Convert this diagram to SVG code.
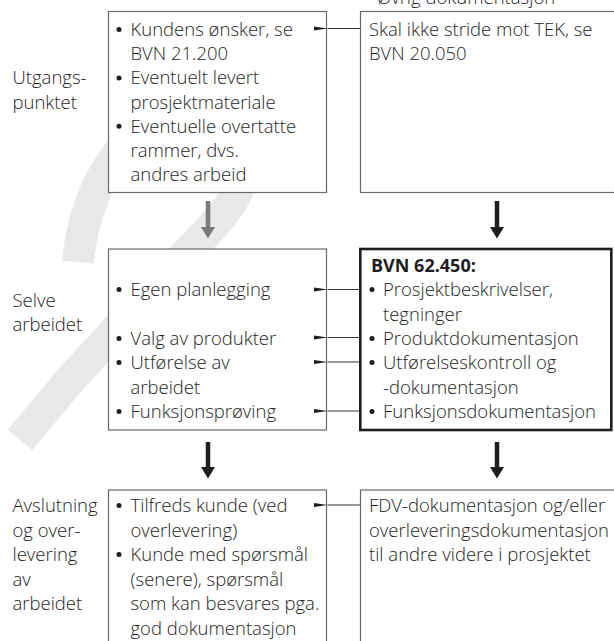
<svg xmlns="http://www.w3.org/2000/svg" width="614" height="641" viewBox="0 0 614 641">
<defs>
<style>
text{font-family:"Open Sans","Noto Sans","DejaVu Sans",sans-serif;font-size:18.5px;fill:#1e1e1e;font-weight:300}
.b{font-weight:bold;font-size:18px}
.dot{fill:#1e1e1e}
.box{fill:#fff;stroke:#6a6a6a;stroke-width:1.2}
.bold{fill:#fff;stroke:#1e1e1e;stroke-width:2.6}
.h{stroke:#333;stroke-width:1.1;fill:none}
.v{stroke:#1e1e1e;stroke-width:4.5;fill:none}
.vg{stroke:#7a7a7a;stroke-width:4.5;fill:none}
.wm{fill:none;stroke:#e8e8e8;stroke-width:32;stroke-linecap:butt;stroke-linejoin:round}
</style>
<marker id="ha" viewBox="0 0 14 6" refX="0" refY="3" markerWidth="14" markerHeight="6" markerUnits="userSpaceOnUse" orient="auto">
<path d="M0 3 L14 0.8 L14 5.2 Z" fill="#1e1e1e"/>
</marker>
</defs>

<g id="watermark">
<path class="wm" d="M78 262 C82 215 100 170 130 140 C165 110 225 110 240 150 C252 185 225 215 190 250 L70 380 L20 440"/>
</g>

<text x="377" y="4" font-size="21.5">Øvrig dokumentasjon</text>

<g id="label-utgang">
<text x="12.5" y="84.4">Utgangs-</text>
<text x="12.5" y="108.6">punktet</text>
</g>
<g id="label-selve">
<text x="12.5" y="307">Selve</text>
<text x="12.5" y="331">arbeidet</text>
</g>
<g id="label-avslutning">
<text x="12.5" y="512">Avslutning</text>
<text x="12.5" y="536.5">og over-</text>
<text x="12.5" y="561">levering</text>
<text x="12.5" y="585.5">av</text>
<text x="12.5" y="610">arbeidet</text>
</g>

<g id="box-kunde">
<rect class="box" x="108.5" y="11.5" width="218" height="181"/>
<circle class="dot" cx="119" cy="29.5" r="2.5"/><text x="130.5" y="36">Kundens ønsker, se</text>
<text x="130.5" y="60.2">BVN 21.200</text>
<circle class="dot" cx="119" cy="77.9" r="2.5"/><text x="130.5" y="84.4">Eventuelt levert</text>
<text x="130.5" y="108.6">prosjektmateriale</text>
<circle class="dot" cx="119" cy="126.3" r="2.5"/><text x="130.5" y="132.8">Eventuelle overtatte</text>
<text x="130.5" y="157">rammer, dvs.</text>
<text x="130.5" y="181.2">andres arbeid</text>
</g>

<g id="box-tek">
<rect class="box" x="360.5" y="11.5" width="260" height="181"/>
<text x="369" y="36">Skal ikke stride mot TEK, se</text>
<text x="369" y="60.2">BVN 20.050</text>
</g>

<g id="box-arbeid">
<rect class="box" x="108.5" y="249" width="218" height="181"/>
<circle class="dot" cx="119" cy="289.5" r="2.5"/><text x="130.5" y="296">Egen planlegging</text>
<circle class="dot" cx="119" cy="338.5" r="2.5"/><text x="130.5" y="345">Valg av produkter</text>
<circle class="dot" cx="119" cy="362.5" r="2.5"/><text x="130.5" y="369">Utførelse av</text>
<text x="130.5" y="393.5">arbeidet</text>
<circle class="dot" cx="119" cy="411.5" r="2.5"/><text x="130.5" y="418">Funksjonsprøving</text>
</g>

<g id="box-bvn">
<rect class="bold" x="360.3" y="249" width="251" height="181"/>
<text class="b" x="371" y="272">BVN 62.450:</text>
<circle class="dot" cx="372" cy="289.5" r="2.5"/><text x="383" y="296">Prosjektbeskrivelser,</text>
<text x="383" y="320.5">tegninger</text>
<circle class="dot" cx="372" cy="338.5" r="2.5"/><text x="383" y="345">Produktdokumentasjon</text>
<circle class="dot" cx="372" cy="362.5" r="2.5"/><text x="383" y="369">Utførelseskontroll og</text>
<text x="383" y="393.5">-dokumentasjon</text>
<circle class="dot" cx="372" cy="411.5" r="2.5"/><text x="383" y="418">Funksjonsdokumentasjon</text>
</g>

<g id="box-kunde-slutt">
<rect class="box" x="108.5" y="490" width="218" height="200"/>
<circle class="dot" cx="119" cy="505.5" r="2.5"/><text x="130.5" y="512">Tilfreds kunde (ved</text>
<text x="130.5" y="536.5">overlevering)</text>
<circle class="dot" cx="119" cy="554.5" r="2.5"/><text x="130.5" y="561">Kunde med spørsmål</text>
<text x="130.5" y="585.5">(senere), spørsmål</text>
<text x="130.5" y="610">som kan besvares pga.</text>
<text x="130.5" y="634.5">god dokumentasjon</text>
</g>

<g id="box-fdv">
<rect class="box" x="360.5" y="490" width="260" height="200"/>
<text x="369" y="512">FDV-dokumentasjon og/eller</text>
<text x="369" y="536.5">overleveringsdokumentasjon</text>
<text x="369" y="561">til andre videre i prosjektet</text>
</g>

<g id="connectors">
<path class="h" d="M360.5 28.5 H327.5" marker-end="url(#ha)"/>
<path class="h" d="M360 289.5 H327.5" marker-end="url(#ha)"/>
<path class="h" d="M360 337.5 H327.5" marker-end="url(#ha)"/>
<path class="h" d="M360 362 H327.5" marker-end="url(#ha)"/>
<path class="h" d="M360 411 H327.5" marker-end="url(#ha)"/>
<path class="h" d="M360.5 505 H327.5" marker-end="url(#ha)"/>

<path class="vg" d="M208 201 V228"/>
<path d="M201 227 H215 L208 238.5 Z" fill="#7a7a7a"/>
<path class="v" d="M497 201 V228"/>
<path d="M490 227 H504 L497 238.5 Z" fill="#1e1e1e"/>
<path class="v" d="M208 442 V468"/>
<path d="M201 467 H215 L208 478.5 Z" fill="#1e1e1e"/>
<path class="v" d="M497 442 V468"/>
<path d="M490 467 H504 L497 478.5 Z" fill="#1e1e1e"/>
</g>
</svg>
